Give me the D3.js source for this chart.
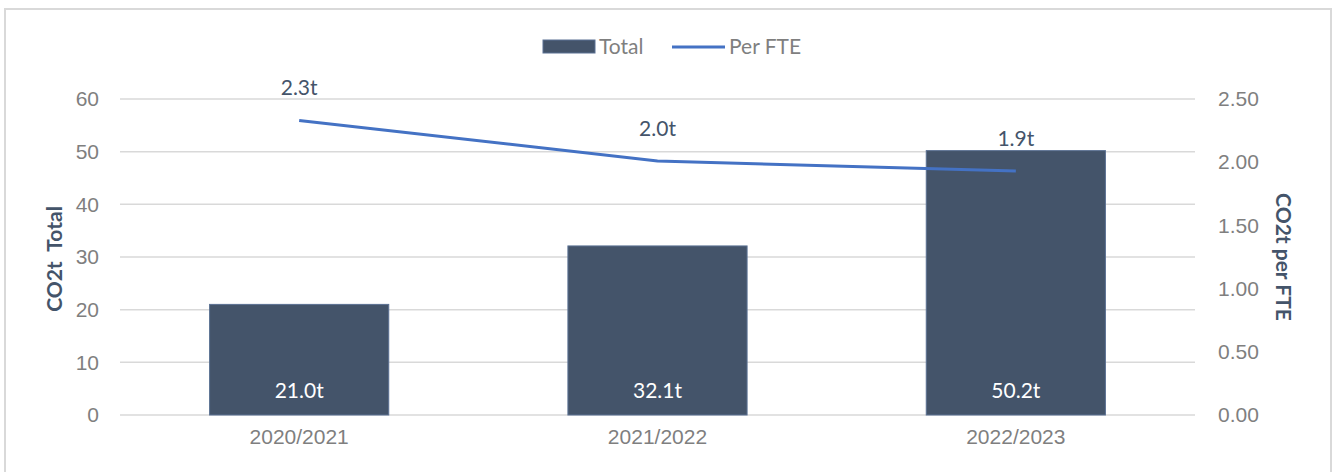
<!DOCTYPE html>
<html>
<head>
<meta charset="utf-8">
<script src="https://cdn.jsdelivr.net/npm/d3@7"></script>
<style>
  body { margin: 0; background: #fff; }
  svg { font-family: Lato, "Open Sans", sans-serif; }
</style>
</head>
<body>
<div id="chart"></div>
<script>
const years = ["2020/2021", "2021/2022", "2022/2023"];
const totals = [21.0, 32.1, 50.2];
const perFte = [2.33, 2.01, 1.93];
const perFteLabels = ["2.3t", "2.0t", "1.9t"];
const leftTicks = [0, 10, 20, 30, 40, 50, 60];
const rightTicks = [0, 0.5, 1, 1.5, 2, 2.5];

const width = 1335, height = 472;
const plot = { left: 120, right: 1195, top: 99, bottom: 415 };
const fs = "21px";

const svg = d3.select("#chart").append("svg")
	.attr("width", width)
	.attr("height", height);

// outer frame
svg.append("rect")
	.attr("x", 5).attr("y", 9)
	.attr("width", 1326).attr("height", 480)
	.attr("fill", "none")
	.attr("stroke", "#d9d9d9")
	.attr("stroke-width", 2);

const x = d3.scaleBand().domain(years).range([plot.left, plot.right]).paddingInner(0.5).paddingOuter(0.25);
const yL = d3.scaleLinear().domain([0, 60]).range([plot.bottom, plot.top]);
const yR = d3.scaleLinear().domain([0, 2.5]).range([plot.bottom, plot.top]);

// gridlines
svg.append("g")
	.selectAll("line")
	.data(leftTicks).enter()
	.append("line")
	.attr("x1", plot.left).attr("x2", plot.right)
	.attr("y1", d => yL(d)).attr("y2", d => yL(d))
	.attr("stroke", "#d9d9d9")
	.attr("stroke-width", 1.5);

// left axis
const leftAxis = svg.append("g")
	.attr("transform", `translate(${plot.left},0)`)
	.call(d3.axisLeft(yL).tickValues(leftTicks).tickSize(0).tickPadding(21));
leftAxis.select(".domain").remove();
leftAxis.selectAll("text").attr("fill", "#7f7f7f").style("font-size", fs);

// right axis
const rightAxis = svg.append("g")
	.attr("transform", `translate(${plot.right},0)`)
	.call(d3.axisRight(yR).tickValues(rightTicks).tickFormat(d3.format(".2f")).tickSize(0).tickPadding(23));
rightAxis.select(".domain").remove();
rightAxis.selectAll("text").attr("fill", "#7f7f7f").style("font-size", fs);

// bottom axis
const bottomAxis = svg.append("g")
	.attr("transform", `translate(0,${plot.bottom})`)
	.call(d3.axisBottom(x).tickSize(0).tickPadding(14));
bottomAxis.select(".domain").remove();
bottomAxis.selectAll("text").attr("fill", "#7f7f7f").style("font-size", fs);

// bars
svg.append("g")
	.selectAll("rect")
	.data(totals).enter()
	.append("rect")
	.attr("x", (d, i) => x(years[i]))
	.attr("width", x.bandwidth())
	.attr("y", d => yL(d))
	.attr("height", d => yL(0) - yL(d))
	.attr("fill", "#44546a")
	.attr("stroke", "#5b7193")
	.attr("stroke-width", 1);

svg.append("g")
	.selectAll("text")
	.data(totals).enter()
	.append("text")
	.attr("x", (d, i) => x(years[i]) + x.bandwidth() / 2)
	.attr("y", yL(0) - 17)
	.attr("text-anchor", "middle")
	.attr("fill", "#fff")
	.style("font-size", fs)
	.text(d => d.toFixed(1) + "t");

// line
const line = d3.line()
	.x((d, i) => x(years[i]) + x.bandwidth() / 2)
	.y(d => yR(d));
svg.append("path")
	.datum(perFte)
	.attr("d", line)
	.attr("fill", "none")
	.attr("stroke", "#4472c4")
	.attr("stroke-width", 3);

svg.append("g")
	.selectAll("text")
	.data(perFte).enter()
	.append("text")
	.attr("x", (d, i) => x(years[i]) + x.bandwidth() / 2)
	.attr("y", d => yR(d) - 25)
	.attr("text-anchor", "middle")
	.attr("fill", "#44546a")
	.style("font-size", fs)
	.text((d, i) => perFteLabels[i]);

// axis titles
svg.append("text")
	.attr("transform", "translate(62,259) rotate(-90)")
	.attr("text-anchor", "middle")
	.attr("fill", "#44546a")
	.style("font-size", "21px")
	.style("font-weight", "bold")
	.attr("xml:space", "preserve")
	.text("CO2t  Total");

svg.append("text")
	.attr("transform", "translate(1276,257) rotate(90)")
	.attr("text-anchor", "middle")
	.attr("fill", "#44546a")
	.style("font-size", "21px")
	.style("font-weight", "bold")
	.text("CO2t per FTE");

// legend
const legend = svg.append("g");
legend.append("rect")
	.attr("x", 543).attr("y", 40)
	.attr("width", 52).attr("height", 13)
	.attr("fill", "#44546a")
	.attr("stroke", "#5b7193");
legend.append("text")
	.attr("x", 599).attr("y", 54)
	.attr("fill", "#7f7f7f")
	.style("font-size", fs)
	.text("Total");
legend.append("line")
	.attr("x1", 672).attr("x2", 725)
	.attr("y1", 47).attr("y2", 47)
	.attr("stroke", "#4472c4")
	.attr("stroke-width", 3);
legend.append("text")
	.attr("x", 729).attr("y", 54)
	.attr("fill", "#7f7f7f")
	.style("font-size", fs)
	.text("Per FTE");
</script>
</body>
</html>
